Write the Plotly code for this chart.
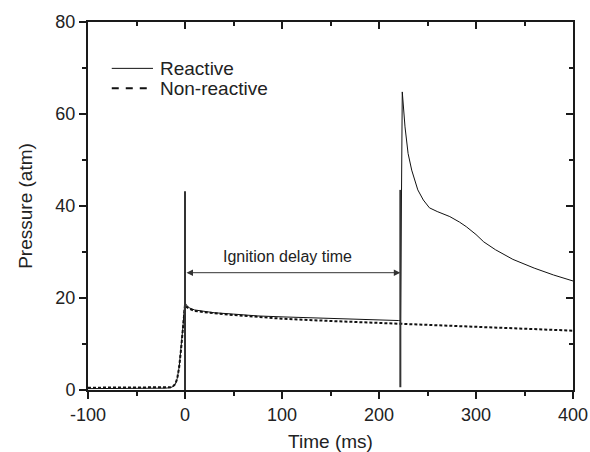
import plotly.graph_objects as go

# ---- data ----
time_reactive = [-100, -60, -30, -20, -15, -12, -10, -8, -6, -4, -2, -1, 0, 2, 5, 10, 20, 30,
                 50, 75, 100, 125, 150, 175, 200, 210, 220, 222.2, 224, 226.8, 230, 233.7,
                 240, 245.7, 252, 260, 273, 283, 290, 300, 308, 320, 338, 360, 380, 400]
p_reactive = [0.3, 0.3, 0.35, 0.4, 0.5, 0.8, 1.2, 2.5, 5, 9, 14, 17, 19.0, 18.3, 17.8, 17.4, 17.1, 16.8,
              16.5, 16.1, 15.9, 15.7, 15.5, 15.3, 15.2, 15.1, 15.1, 15.1, 64.8, 57.2, 51.4, 47.8,
              43.5, 41.3, 39.6, 38.8, 37.7, 36.5, 35.5, 33.8, 32.2, 30.5, 28.4, 26.5, 25.0, 23.7]

time_nonreactive = [-100, -50, -20, -15, -12, -10, -8, -6, -4, -2, -1, 0, 2, 5, 10, 25, 50,
                    100, 150, 200, 250, 300, 350, 400]
p_nonreactive = [0.5, 0.5, 0.5, 0.6, 0.9, 1.3, 2.5, 5, 9, 14, 17, 18.5, 18.0, 17.6, 17.2, 16.8, 16.3,
                 15.5, 15.0, 14.6, 14.2, 13.7, 13.3, 12.9]

marker_times = [0, 222]          # ignition delay markers (ms)
marker_bottoms = [0, 0.6]        # atm
marker_tops = [43.2, 43.5]       # atm
arrow_level = 25.5               # atm
label_level = 29.1               # atm
label_text = "Ignition delay time"
legend_names = ["Reactive", "Non-reactive"]

x_ticks = [-100, 0, 100, 200, 300, 400]
x_ticklabels = ["-100", "0", "100", "200", "300", "400"]
y_ticks = [0, 20, 40, 60, 80]

FONT = "Liberation Sans, Arial, sans-serif"
DARK = "#1a1a1a"

fig = go.Figure()

fig.add_trace(go.Scatter(x=time_reactive, y=p_reactive, mode="lines", name=legend_names[0],
                         line=dict(color="#111111", width=1), showlegend=False))
fig.add_trace(go.Scatter(x=time_nonreactive, y=p_nonreactive, mode="lines", name=legend_names[1],
                         line=dict(color="#111111", width=2, dash="3px,2px"), showlegend=False))

# marker vertical lines
for t, b, top in zip(marker_times, marker_bottoms, marker_tops):
    fig.add_trace(go.Scatter(x=[t, t], y=[b, top], mode="lines",
                             line=dict(color="#333333", width=2), showlegend=False,
                             hoverinfo="skip"))

# invisible trace for mirrored axes
fig.add_trace(go.Scatter(x=[x_ticks[0]], y=[y_ticks[0]], xaxis="x2", yaxis="y2",
                         mode="markers", marker=dict(opacity=0), showlegend=False,
                         hoverinfo="skip"))

# double arrow
fig.add_annotation(x=marker_times[1], y=arrow_level, ax=marker_times[0], ay=arrow_level,
                   xref="x", yref="y", axref="x", ayref="y", text="", showarrow=True,
                   arrowside="end+start", arrowhead=2, arrowsize=1.3, arrowwidth=1,
                   arrowcolor="#333333")
fig.add_annotation(x=(marker_times[0] + marker_times[1]) / 2 - 5, y=label_level, text=label_text,
                   showarrow=False, font=dict(family=FONT, size=16, color="#222222"))

# manual legend
leg_y = [0.874, 0.820]
for name, dash, w, yy in zip(legend_names, ["solid", "7px,7px"], [1, 2], leg_y):
    fig.add_shape(type="line", xref="paper", yref="paper", x0=0.049, x1=0.134, y0=yy, y1=yy,
                  line=dict(color="#111111", width=w, dash=dash))
    fig.add_annotation(xref="paper", yref="paper", x=0.145, y=yy, text=name, showarrow=False,
                       xanchor="left", yanchor="middle",
                       font=dict(family=FONT, size=19, color="#222222"))

axis_common = dict(showline=True, linewidth=2, linecolor=DARK, showgrid=False, zeroline=False,
                   tickwidth=2, tickcolor=DARK, ticklen=7, automargin=False)

fig.update_layout(
    width=590, height=452,
    margin=dict(l=88, r=17, t=22, b=62),
    paper_bgcolor="white", plot_bgcolor="white",
    font=dict(family=FONT, color="#222222"),
    xaxis=dict(range=[-100, 400], tickvals=x_ticks, ticktext=x_ticklabels, ticks="outside",
               tickfont=dict(size=18), title=dict(text="Time (ms)", font=dict(size=19), standoff=12),
               minor=dict(ticks="outside", dtick=50, ticklen=4, tickwidth=2, tickcolor=DARK),
               **axis_common),
    yaxis=dict(range=[0, 80], tickvals=y_ticks, ticks="outside",
               tickfont=dict(size=18), title=dict(text="Pressure (atm)", font=dict(size=19), standoff=18),
               minor=dict(ticks="outside", dtick=10, ticklen=4, tickwidth=2, tickcolor=DARK),
               **axis_common),
    xaxis2=dict(range=[-100, 400], overlaying="x", side="top", tickvals=x_ticks, ticks="inside",
                showticklabels=False,
                minor=dict(ticks="inside", dtick=50, ticklen=4, tickwidth=2, tickcolor=DARK),
                **axis_common),
    yaxis2=dict(range=[0, 80], overlaying="y", side="right", tickvals=y_ticks, ticks="inside",
                showticklabels=False,
                minor=dict(ticks="inside", dtick=10, ticklen=4, tickwidth=2, tickcolor=DARK),
                **axis_common),
)

fig.write_html("out.html")
